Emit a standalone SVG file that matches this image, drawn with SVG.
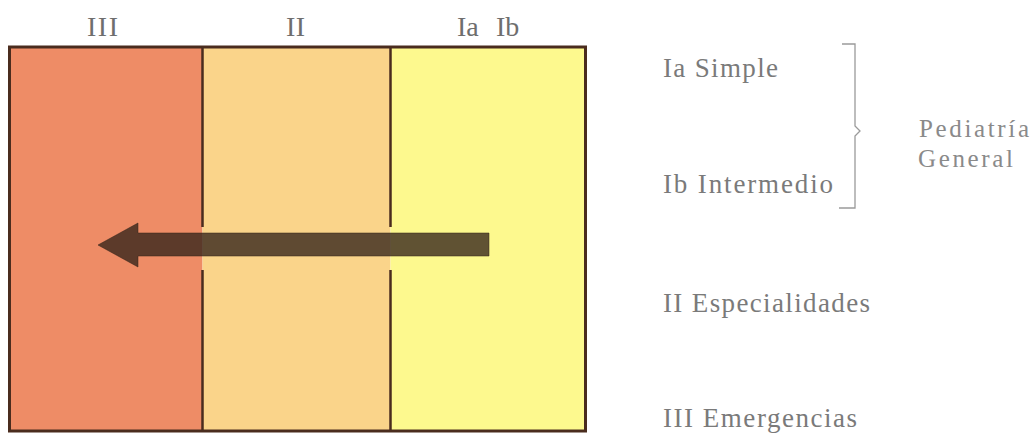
<svg xmlns="http://www.w3.org/2000/svg" width="1036" height="434" viewBox="0 0 1036 434">
<style>
.lbl{font-family:"Liberation Serif","DejaVu Serif",serif;fill:#7a7a7a;font-size:27px}
.ped{font-family:"Liberation Serif","DejaVu Serif",serif;fill:#8a8a8a;font-size:25px}
.top{font-family:"Liberation Serif","DejaVu Serif",serif;fill:#6e6e6e;font-size:28px}
.div{stroke:#4a2c1e;stroke-width:2.5;fill:none}
</style>
<rect width="1036" height="434" fill="#ffffff"/>
<g id="columns">
<rect x="9.5" y="47" width="193" height="384" fill="#EE8C66"/>
<rect x="202.5" y="47" width="188" height="384" fill="#FAD48A"/>
<rect x="390.5" y="47" width="195" height="384" fill="#FDF98E"/>
</g>
<g id="frame">
<rect x="9.5" y="47" width="576" height="384" fill="none" stroke="#4a2c1e" stroke-width="3"/>
<line class="div" x1="202.5" y1="47" x2="202.5" y2="227"/>
<line class="div" x1="202.5" y1="270" x2="202.5" y2="431"/>
<line class="div" x1="390.5" y1="47" x2="390.5" y2="227"/>
<line class="div" x1="390.5" y1="270" x2="390.5" y2="431"/>
</g>
<g id="connectors">
<path d="M489,233 L489,256 L138,256 L138,267 L98,245 L138,223 L138,233 Z" fill="#33231a" fill-opacity="0.78" stroke="#33231a" stroke-opacity="0.5" stroke-width="1" stroke-linejoin="round"/>
<path d="M842,44 H855 V126 L860,131 L855,136 V208 H839" fill="none" stroke="#9a9a9a" stroke-width="1.3"/>
</g>
<g id="top-labels">
<text class="top" x="87" y="36" textLength="31" lengthAdjust="spacing">III</text>
<text class="top" x="286" y="36" textLength="19" lengthAdjust="spacing">II</text>
<text class="top" x="457" y="36">Ia<tspan x="496">Ib</tspan></text>
</g>
<g id="node-ia"><text class="lbl" x="663" y="77" textLength="115" lengthAdjust="spacing">Ia Simple</text></g>
<g id="node-ib"><text class="lbl" x="663" y="193" textLength="170" lengthAdjust="spacing">Ib Intermedio</text></g>
<g id="node-ii"><text class="lbl" x="663" y="312" textLength="207" lengthAdjust="spacing">II Especialidades</text></g>
<g id="node-iii"><text class="lbl" x="663" y="427" textLength="194" lengthAdjust="spacing">III Emergencias</text></g>
<g id="node-ped">
<text class="ped" x="919" y="137" textLength="110" lengthAdjust="spacing">Pediatría</text>
<text class="ped" x="918" y="167" textLength="95" lengthAdjust="spacing">General</text>
</g>
</svg>
